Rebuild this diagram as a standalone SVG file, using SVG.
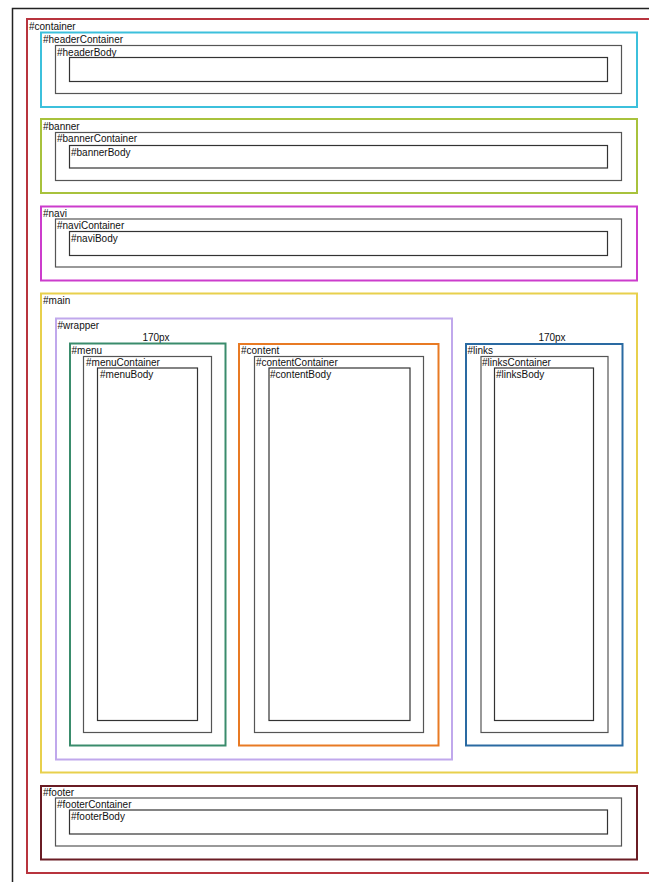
<svg xmlns="http://www.w3.org/2000/svg" width="649" height="882" viewBox="0 0 649 882">
<style>
rect{fill:none}
.c2{stroke-width:2}
.g{stroke:#555;stroke-width:1.2}
.k{stroke:#333;stroke-width:1.2}
text{font-family:"Liberation Sans",Arial,sans-serif;font-size:10px;fill:#111}
.px{text-anchor:middle}
</style>
<rect x="0" y="0" width="649" height="882" style="fill:#fff"/>
<g id="frame">
<path d="M12.5 882 V8.5 H649" fill="none" stroke="#222" stroke-width="1.5"/>
</g>
<g id="container">
<rect x="27" y="19" width="630" height="854" class="c2" stroke="#b8343e"/>
<text x="29" y="30">#container</text>
</g>
<g id="header">
<rect x="41" y="32.5" width="596" height="74.5" class="c2" stroke="#3cc0dc"/>
<text x="43" y="43">#headerContainer</text>
<rect x="55.5" y="45.5" width="566" height="48" class="g"/>
<text x="57" y="55.5">#headerBody</text>
<rect x="69.5" y="57.5" width="538" height="24" class="k"/>
</g>
<g id="banner">
<rect x="41" y="119" width="596" height="74" class="c2" stroke="#a8c23c"/>
<text x="43" y="129.5">#banner</text>
<rect x="55.5" y="132.5" width="566" height="48" class="g"/>
<text x="57" y="141.5">#bannerContainer</text>
<rect x="69.5" y="145.5" width="538" height="22.5" class="k"/>
<text x="71" y="155.5">#bannerBody</text>
</g>
<g id="navi">
<rect x="41" y="206.5" width="596" height="74" class="c2" stroke="#cc3ccc"/>
<text x="43" y="216.5">#navi</text>
<rect x="55.5" y="219" width="566" height="48" class="g"/>
<text x="57" y="229">#naviContainer</text>
<rect x="69.5" y="231.5" width="538" height="24" class="k"/>
<text x="71" y="241.5">#naviBody</text>
</g>
<g id="main">
<rect x="41" y="293.5" width="596" height="479" class="c2" stroke="#e8d04c"/>
<text x="43" y="303.5">#main</text>
</g>
<g id="wrapper">
<rect x="56" y="318.5" width="396" height="441" class="c2" stroke="#c0a8ec"/>
<text x="57.5" y="329">#wrapper</text>
<text x="156" y="340.5" class="px">170px</text>
</g>
<g id="menu">
<rect x="70" y="343.5" width="155.5" height="402" class="c2" stroke="#3a8c6c"/>
<text x="71.5" y="354">#menu</text>
<rect x="83.5" y="356.5" width="128" height="376" class="g"/>
<text x="86" y="366">#menuContainer</text>
<rect x="97.5" y="368" width="100" height="352.5" class="k"/>
<text x="100" y="378">#menuBody</text>
</g>
<g id="content">
<rect x="239" y="344" width="199.5" height="401.5" class="c2" stroke="#e87a24"/>
<text x="241" y="354">#content</text>
<rect x="254.5" y="356.5" width="169" height="376" class="g"/>
<text x="256" y="366">#contentContainer</text>
<rect x="269" y="368" width="141" height="352.5" class="k"/>
<text x="270" y="378">#contentBody</text>
</g>
<g id="links">
<text x="552" y="340.5" class="px">170px</text>
<rect x="466" y="344" width="156.5" height="401.5" class="c2" stroke="#2a6aa2"/>
<text x="467.5" y="354">#links</text>
<rect x="481" y="356.5" width="127" height="376" class="g"/>
<text x="482" y="366">#linksContainer</text>
<rect x="494.5" y="368" width="99" height="352.5" class="k"/>
<text x="496" y="377.5">#linksBody</text>
</g>
<g id="footer">
<rect x="41" y="786" width="596" height="73.5" class="c2" stroke="#6a1c24"/>
<text x="43" y="796">#footer</text>
<rect x="55.5" y="798" width="566" height="48" class="g"/>
<text x="57" y="808">#footerContainer</text>
<rect x="69.5" y="810" width="538" height="24" class="k"/>
<text x="71" y="820">#footerBody</text>
</g>
</svg>
